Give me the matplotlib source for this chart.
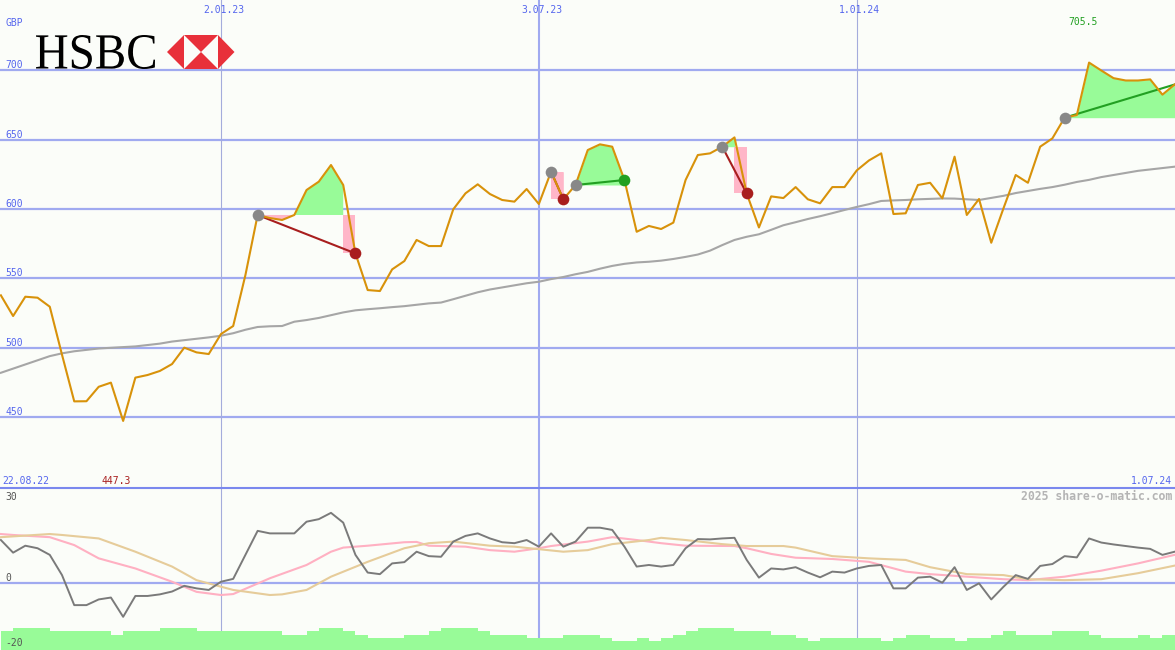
import numpy as np
import pandas as pd
import matplotlib
matplotlib.use('Agg')
import matplotlib.pyplot as plt
import matplotlib.dates as mdates
from matplotlib.textpath import TextPath
from matplotlib.patches import PathPatch, Polygon
from matplotlib.font_manager import FontProperties
from matplotlib.transforms import Affine2D

# ---------------- data ----------------
start_date = '2022-08-29'
n_weeks = 97
dates = pd.date_range(start_date, periods=n_weeks, freq='7D')

price = [537.8, 522.9, 536.8, 536.1, 529.6, 495.0, 461.4, 461.5, 471.9, 474.9,
         447.3, 478.5, 480.4, 483.3, 488.3, 500.1, 496.7, 495.5, 509.9, 515.7,
         552.4, 595.7, 593.5, 592.1, 595.7, 613.7, 619.7, 631.7, 617.3, 568.0,
         541.6, 540.9, 556.5, 562.5, 577.7, 573.3, 573.3, 599.8, 611.3, 617.8,
         610.8, 606.5, 605.3, 614.4, 603.6, 626.9, 607.0, 617.3, 642.5, 646.6,
         644.9, 620.9, 583.6, 587.8, 585.6, 590.2, 620.9, 638.9, 640.1, 644.9,
         651.6, 611.2, 586.7, 609.1, 607.9, 615.8, 607.0, 604.1, 615.8, 615.8,
         627.8, 635.0, 640.1, 596.4, 596.9, 617.3, 618.9, 607.7, 637.7, 595.7,
         607.2, 575.7, 600.5, 624.5, 618.9, 644.9, 650.9, 665.8, 667.7, 705.5,
         699.8, 694.3, 692.6, 692.6, 693.4, 682.4, 689.7]

moving_avg = [482.0, 485.0, 488.0, 491.0, 494.0, 496.0, 497.5, 498.5, 499.5, 500.0,
              500.5, 501.0, 502.0, 503.0, 504.5, 505.5, 506.5, 507.5, 508.7, 510.5,
              513.0, 515.0, 515.5, 515.7, 518.8, 520.0, 521.5, 523.5, 525.5, 527.0,
              527.8, 528.5, 529.3, 530.0, 531.0, 532.0, 532.6, 535.0, 537.5, 540.0,
              542.0, 543.5, 545.0, 546.5, 547.6, 549.5, 551.0, 553.0, 554.7, 557.0,
              559.0, 560.5, 561.5, 562.0, 562.8, 564.0, 565.5, 567.2, 570.0, 574.0,
              577.7, 580.0, 581.8, 585.0, 588.3, 590.5, 592.8, 594.8, 597.0, 599.3,
              601.5, 603.5, 605.8, 606.2, 606.5, 607.0, 607.3, 607.6, 607.5, 607.0,
              606.5, 608.0, 609.5, 611.5, 613.0, 614.5, 615.8, 617.5, 619.5, 621.0,
              623.0, 624.5, 626.0, 627.5, 628.5, 629.5, 630.5]

buy_idx = [21, 45, 47, 59, 87]
sell_idx = [29, 46, 51, 61, None]

momentum = [13.6, 9.6, 11.8, 11.0, 8.9, 2.5, -7.0, -7.0, -5.2, -4.6,
            -10.7, -4.1, -4.1, -3.6, -2.7, -0.9, -1.7, -2.2, 0.4, 1.3,
            8.9, 16.5, 15.7, 15.7, 15.7, 19.4, 20.2, 22.2, 19.1, 8.9,
            3.3, 2.8, 6.2, 6.6, 9.9, 8.5, 8.3, 13.1, 14.9, 15.7,
            14.1, 12.9, 12.6, 13.6, 11.5, 15.7, 11.5, 13.1, 17.5, 17.5,
            16.8, 11.5, 5.2, 5.7, 5.2, 5.7, 11.0, 13.9, 13.8, 14.1,
            14.3, 7.3, 1.7, 4.6, 4.3, 5.0, 3.3, 1.8, 3.6, 3.3,
            4.6, 5.4, 5.7, -1.7, -1.7, 1.7, 2.0, 0.1, 5.0, -2.2,
            -0.1, -5.2, -1.2, 2.5, 1.3, 5.4, 6.0, 8.5, 8.1, 14.1,
            12.8, 12.2, 11.7, 11.2, 10.8, 8.9, 9.9]

pink_weeks = [0, 1, 4, 6, 8, 11, 14, 16, 18, 19, 22, 25, 27, 28, 30, 33, 34, 35, 38, 40,
              42, 44, 45, 48, 50, 52, 54, 56, 60, 61, 63, 65, 68, 71, 74, 76, 79, 82, 84,
              87, 90, 93, 96]
pink_vals = [15.5, 15.2, 14.5, 12.0, 7.8, 4.6, 0.4, -2.8, -3.8, -3.5, 1.5, 5.7, 9.9, 11.2,
             11.8, 12.9, 13.0, 11.8, 11.5, 10.4, 9.9, 11.0, 11.7, 13.1, 14.5, 13.6, 12.6,
             11.8, 11.7, 11.0, 9.2, 8.0, 7.6, 6.7, 3.6, 2.8, 2.0, 1.2, 0.9, 2.0, 3.9, 6.2, 8.9]

tan_weeks = [0, 4, 5, 8, 11, 14, 16, 19, 22, 23, 25, 27, 30, 33, 35, 37, 40, 42, 44, 46,
             48, 50, 53, 54, 56, 59, 61, 64, 65, 68, 71, 74, 76, 79, 82, 84, 87, 90, 93, 96]
tan_vals = [14.5, 15.5, 15.2, 14.1, 9.9, 5.2, 0.9, -2.2, -3.8, -3.6, -2.2, 2.0, 6.7, 11.0,
            12.6, 13.1, 11.8, 11.5, 10.7, 9.9, 10.4, 12.3, 13.6, 14.3, 13.6, 12.3, 11.7,
            11.7, 11.2, 8.5, 7.8, 7.3, 5.0, 2.8, 2.5, 1.2, 0.9, 1.2, 3.1, 5.5]

bars = [-15.2, -14.2, -14.2, -14.2, -15.2, -15.2, -15.2, -15.2, -15.2, -16.5,
        -15.2, -15.2, -15.2, -14.2, -14.2, -14.2, -15.2, -15.2, -15.2, -15.2,
        -15.2, -15.2, -15.2, -16.5, -16.5, -15.2, -14.2, -14.2, -15.2, -16.5,
        -17.4, -17.4, -17.4, -16.5, -16.5, -15.2, -14.2, -14.2, -14.2, -15.2,
        -16.5, -16.5, -16.5, -17.4, -17.4, -17.4, -16.5, -16.5, -16.5, -17.4,
        -18.4, -18.4, -17.4, -18.4, -17.4, -16.5, -15.2, -14.2, -14.2, -14.2,
        -15.2, -15.2, -15.2, -16.5, -16.5, -17.4, -18.4, -17.4, -17.4, -17.4,
        -17.4, -17.4, -18.4, -17.4, -16.5, -16.5, -17.4, -17.4, -18.4, -17.4,
        -17.4, -16.5, -15.2, -16.5, -16.5, -16.5, -15.2, -15.2, -15.2, -16.5,
        -17.4, -17.4, -17.4, -16.5, -17.4, -16.5]

price_grid = [450, 500, 550, 600, 650, 700]
thin_vlines = ['2023-01-02', '2024-01-01']
thick_vlines = ['2023-07-03']
top_labels = {'2023-01-02': '2.01.23', '2023-07-03': '3.07.23', '2024-01-01': '1.01.24'}

# ---------------- style ----------------
BG = '#fbfdf9'
GRID = '#a0aaf0'
BLUE_TXT = '#5566ee'
ORANGE = '#d8920a'
MA_GRAY = '#a6a6a6'
GREEN_FILL = '#98fb98'
PINK_FILL = '#ffb6c8'
DARK_RED = '#a81e1e'
GREEN = '#22a022'
MONO = 'DejaVu Sans Mono'

fig = plt.figure(figsize=(11.75, 6.5), dpi=100, facecolor=BG)

ax = fig.add_axes([0, 163 / 650, 1, 487 / 650])
ax2 = fig.add_axes([0, 0, 1, 162 / 650])
for a in (ax, ax2):
    a.set_facecolor(BG)
    a.axis('off')

dn = mdates.date2num(dates)
xl = (dn[0] - 0.5, dn[0] + 672.2)
ax.set_xlim(xl)
ax2.set_xlim(xl)
ax.set_ylim(399.7, 750.6)
ax2.set_ylim(-21.2, 30.06)

price = np.array(price)

# grid
for v in price_grid:
    ax.axhline(v, color=GRID, lw=1.6, zorder=1)
    ax.annotate(str(v), xy=(0, v), xycoords=ax.get_yaxis_transform(), xytext=(5, 2),
                textcoords='offset pixels', ha='left', va='baseline', color=BLUE_TXT,
                fontsize=7, family=MONO)
ax2.axhline(0, color=GRID, lw=1.6, zorder=1)
for a in (ax, ax2):
    for d in thin_vlines:
        a.axvline(mdates.datestr2num(d), color='#a4acdc', lw=0.8, zorder=1)
    for d in thick_vlines:
        a.axvline(mdates.datestr2num(d), color=GRID, lw=1.5, zorder=1)
for d, lbl in top_labels.items():
    ax.annotate(lbl, xy=(mdates.datestr2num(d), 1), xycoords=ax.get_xaxis_transform(),
                xytext=(3, -13), textcoords='offset pixels', ha='center', va='baseline',
                color=BLUE_TXT, fontsize=7, family=MONO)

# trades: fills
for b, s in zip(buy_idx, sell_idx):
    entry = price[b]
    end = s if s is not None else n_weeks - 1
    xs = dn[b:end + 1]
    ys = price[b:end + 1]
    if len(xs) > 1:
        ax.fill_between(xs, ys, entry, where=ys >= entry, interpolate=False,
                        color=GREEN_FILL, lw=0, zorder=2)
        ax.fill_between(xs, ys, entry, where=ys <= entry, interpolate=False,
                        color=PINK_FILL, lw=0, zorder=2)
    if s is not None:
        col = GREEN_FILL if price[s] >= entry else PINK_FILL
        ax.fill_between([dn[s - 1], dn[s]], [entry, entry], [price[s], price[s]],
                        color=col, lw=0, zorder=2)

ax.plot(dn, moving_avg, color=MA_GRAY, lw=1.5, zorder=3)

for b, s in zip(buy_idx, sell_idx):
    end = s if s is not None else n_weeks - 1
    win = price[end] >= price[b]
    col = GREEN if win else DARK_RED
    ax.plot([dn[b], dn[end]], [price[b], price[end]], color=col, lw=1.5, zorder=3.5)

ax.plot(dn, price, color=ORANGE, lw=1.5, zorder=4)

for b, s in zip(buy_idx, sell_idx):
    ax.plot(dn[b], price[b], 'o', color='#888888', ms=8.4, mew=0, zorder=6)
    if s is not None:
        col = GREEN if price[s] >= price[b] else DARK_RED
        ax.plot(dn[s], price[s], 'o', color=col, ms=8.4, mew=0, zorder=6)

imax = int(np.argmax(price))
imin = int(np.argmin(price))
ax.annotate(f'{price[imax]:.1f}', xy=(dn[imax], 1), xycoords=ax.get_xaxis_transform(),
            xytext=(-6, -25), textcoords='offset pixels', ha='center', va='baseline',
            color=GREEN, fontsize=7, family=MONO)
ax.annotate(f'{price[imin]:.1f}', xy=(dn[imin], 0), xycoords=ax.get_xaxis_transform(),
            xytext=(-7, 3.5), textcoords='offset pixels', ha='center', va='baseline',
            color=DARK_RED, fontsize=7, family=MONO)
ax.annotate('22.08.22', xy=(0, 0), xycoords='axes fraction', xytext=(2, 3.5),
            textcoords='offset pixels', ha='left', va='baseline', color=BLUE_TXT,
            fontsize=7, family=MONO)
ax.annotate('1.07.24', xy=(1, 0), xycoords='axes fraction', xytext=(-3, 3.5),
            textcoords='offset pixels', ha='right', va='baseline', color=BLUE_TXT,
            fontsize=7, family=MONO)
ax.annotate('GBP', xy=(0, 1), xycoords='axes fraction', xytext=(5, -25.5),
            textcoords='offset pixels', ha='left', va='baseline', color=BLUE_TXT,
            fontsize=7, family=MONO)

# lower panel
ax2.fill_between(dn, np.append(bars, bars[-1]), -21.2, step='post', color=GREEN_FILL,
                 lw=0, zorder=2)
ax2.plot(dn[pink_weeks], pink_vals, color='#ffb0c2', lw=1.5, zorder=3)
ax2.plot(dn[tan_weeks], tan_vals, color='#e6cc9a', lw=1.5, zorder=3)
ax2.plot(dn, momentum, color='#7a7a7a', lw=1.4, zorder=4)
ax2.annotate('30', xy=(0, 1), xycoords='axes fraction', xytext=(5, -11.5),
             textcoords='offset pixels', ha='left', va='baseline', color='#555555',
             fontsize=7, family=MONO)
ax2.annotate('0', xy=(0, 0), xycoords=ax2.get_yaxis_transform(), xytext=(5, 2),
             textcoords='offset pixels', ha='left', va='baseline', color='#555555',
             fontsize=7, family=MONO)
ax2.annotate('-20', xy=(0, -20), xycoords=ax2.get_yaxis_transform(), xytext=(5, 0.5),
             textcoords='offset pixels', ha='left', va='baseline', color='#555555',
             fontsize=7, family=MONO)
ax2.annotate('2025 share-o-matic.com', xy=(1, 1), xycoords='axes fraction',
             xytext=(-3, -12), textcoords='offset pixels', ha='right', va='baseline',
             color='#b4b4b4', fontsize=8.3, family=MONO, fontweight='bold')

# overlay in pixel coordinates (logo + separator)
ov = fig.add_axes([0, 0, 1, 1], zorder=10)
ov.set_xlim(0, 1175)
ov.set_ylim(650, 0)
ov.axis('off')
ov.patch.set_alpha(0)
ov.plot([0, 1175], [487.5, 487.5], color='#7a88ee', lw=1.5)

tp = TextPath((0, 0), 'HSBC', size=100, prop=FontProperties(family='Liberation Serif'))
bb = tp.get_extents()
sx = (155 - 36) / bb.width
sy = (69 - 35) / bb.height
tr = Affine2D().translate(-bb.x0, -bb.y0).scale(sx, -sy).translate(36, 69)
ov.add_patch(PathPatch(tr.transform_path(tp), color='black', lw=0))

RED = '#e8303a'
ov.add_patch(Polygon([(167, 52), (184, 35), (184, 69)], closed=True, color=RED, lw=0))
ov.add_patch(Polygon([(218, 35), (234.5, 52), (218, 69)], closed=True, color=RED, lw=0))
ov.add_patch(Polygon([(184, 35), (218, 35), (201, 52)], closed=True, color=RED, lw=0))
ov.add_patch(Polygon([(184, 69), (218, 69), (201, 52)], closed=True, color=RED, lw=0))

fig.savefig('out.png', dpi=100, facecolor=BG)
